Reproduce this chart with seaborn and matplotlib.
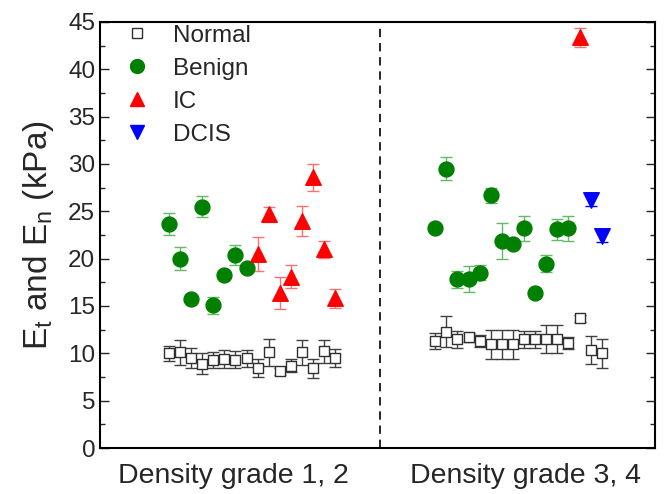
import numpy as np
import pandas as pd
import matplotlib
matplotlib.use("Agg")
import matplotlib.pyplot as plt
import seaborn as sns
from matplotlib.lines import Line2D

# ---------------- data ----------------
group_labels = ["Density grade 1, 2", "Density grade 3, 4"]
group_tick_pos = [11.8, 38.1]

normal_12_x = list(range(6, 22))
normal_12 = [10.0, 10.1, 9.5, 8.9, 9.3, 9.4, 9.3, 9.5, 8.5, 10.1, 8.1, 8.7, 10.1, 8.4, 10.2, 9.5]
normal_12_err = [0.8, 1.3, 1.1, 1.1, 0.8, 0.95, 0.9, 0.9, 0.95, 1.4, 0.4, 0.7, 1.3, 1.0, 1.2, 0.95]

benign_12_x = list(range(6, 14))
benign_12 = [23.7, 20.0, 15.7, 25.5, 15.1, 18.3, 20.4, 19.0]
benign_12_err = [1.15, 1.2, 0.3, 1.1, 0.9, 0.3, 1.05, 0.3]

ic_12_x = list(range(14, 22))
ic_12 = [20.5, 24.7, 16.4, 18.1, 24.0, 28.6, 21.0, 15.8]
ic_12_err = [1.8, 0.8, 1.7, 1.2, 1.6, 1.45, 0.9, 1.0]

normal_34_x = list(range(30, 46))
normal_34 = [11.3, 12.3, 11.5, 11.7, 11.3, 10.95, 10.95, 10.95, 11.5, 11.5, 11.5, 11.5, 11.1, 13.7, 10.35, 10.0]
normal_34_err = [0.8, 1.6, 0.9, 0.5, 0.6, 1.5, 1.5, 1.5, 0.9, 0.9, 1.5, 1.5, 0.6, 0.4, 1.5, 1.5]

benign_34_x = list(range(30, 43))
benign_34 = [23.2, 29.5, 17.85, 17.85, 18.5, 26.7, 21.9, 21.55, 23.2, 16.4, 19.45, 23.1, 23.2]
benign_34_err = [0.3, 1.2, 0.9, 1.4, 0.8, 0.8, 1.9, 0.3, 1.3, 0.3, 0.9, 1.1, 1.3]

ic_34_x = [43]
ic_34 = [43.4]
ic_34_err = [1.0]

dcis_34_x = [44, 45]
dcis_34 = [26.2, 22.4]
dcis_34_err = [0.6, 0.6]

categories = ["Normal", "Benign", "IC", "DCIS"]

# ---------------- build table ----------------
rows = []
def add(cat, xs, ys, es):
    for x, y, e in zip(xs, ys, es):
        rows.append(dict(category=cat, x=x, value=y, err=e))

add("Normal", normal_12_x, normal_12, normal_12_err)
add("Normal", normal_34_x, normal_34, normal_34_err)
add("Benign", benign_12_x, benign_12, benign_12_err)
add("Benign", benign_34_x, benign_34, benign_34_err)
add("IC", ic_12_x, ic_12, ic_12_err)
add("IC", ic_34_x, ic_34, ic_34_err)
add("DCIS", dcis_34_x, dcis_34, dcis_34_err)
df = pd.DataFrame(rows)

# ---------------- style ----------------
sns.set_style("ticks")
plt.rcParams["font.family"] = ["Liberation Sans", "DejaVu Sans"]
plt.rcParams["mathtext.default"] = "regular"

face = {"Normal": "white", "Benign": "#008000", "IC": "#ff0000", "DCIS": "#0000ff"}
edge = {"Normal": "#303030", "Benign": "#008000", "IC": "#ff0000", "DCIS": "#0000ff"}
ecol = {"Normal": "#404040", "Benign": "#66b866", "IC": "#ff7070", "DCIS": "#0000ff"}
mark = {"Normal": "s", "Benign": "o", "IC": "^", "DCIS": "v"}
msize = {"Normal": 58, "Benign": 115, "IC": 125, "DCIS": 125}

fig = plt.figure(figsize=(6.68, 4.94), dpi=100)
ax = fig.add_axes([100/668, 1-448/494, 555/668, 426/494])

for cat in categories:
    sub = df[df.category == cat]
    ax.errorbar(sub.x, sub.value, yerr=sub.err, fmt="none", ecolor=ecol[cat],
                elinewidth=1.0, capsize=4.0, capthick=1.0, zorder=2)
    sns.scatterplot(data=sub, x="x", y="value", ax=ax, marker=mark[cat],
                    s=msize[cat], color=face[cat], edgecolor=edge[cat],
                    linewidth=1.0, zorder=3, legend=False)

ax.axvline(25, color="black", linestyle=(0, (5, 3.5)), linewidth=1.2, zorder=1)

ax.set_xlim(-0.2, 49.8)
ax.set_ylim(0, 45)
ax.set_yticks(np.arange(0, 46, 5))
ax.set_yticks(np.arange(2.5, 45, 5), minor=True)
ax.set_xticks(group_tick_pos)
ax.set_xticklabels(group_labels, fontsize=20.5)
ax.tick_params(axis="x", length=0, pad=11)
ax.tick_params(axis="y", which="major", direction="in", length=6.5, width=1.0,
               labelsize=17.5, right=True, left=True)
ax.tick_params(axis="y", which="minor", direction="in", length=3.5, width=1.0,
               right=True, left=True)
ax.set_xlabel("")
ax.set_ylabel("E$_t$ and E$_n$ (kPa)", fontsize=24, labelpad=9)
for sp in ax.spines.values():
    sp.set_linewidth(1.5)
    sp.set_color("black")

handles = [Line2D([], [], linestyle="none", marker=mark[c], markersize=(10 if c != "Normal" else 7),
                  markerfacecolor=face[c], markeredgecolor=edge[c], markeredgewidth=1.0)
           for c in categories]
ax.legend(handles, categories, loc="upper left", bbox_to_anchor=(0.015, 1.028),
          frameon=False, fontsize=17.5, handlelength=1.2, handletextpad=0.85,
          labelspacing=0.45, borderaxespad=0.2)

fig.savefig("out.png", dpi=100)
